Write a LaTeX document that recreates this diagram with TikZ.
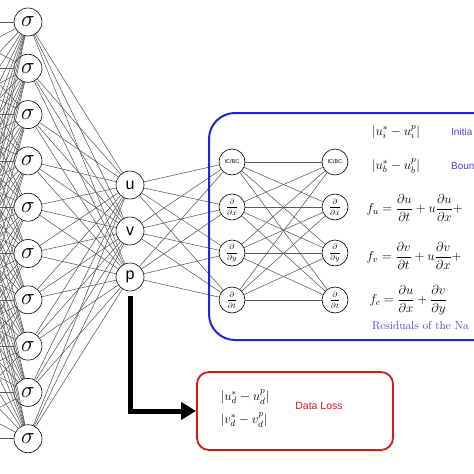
\documentclass[tikz,border=0pt]{standalone}
\usepackage{fix-cm}
\usepackage{amsmath}
\usepackage{amssymb}
\usepackage{fontspec}
\usepackage{tikz}
\usetikzlibrary{arrows.meta}
\newfontfamily\arialfont{Liberation Sans}
\definecolor{boxblue}{RGB}{35,35,215}
\definecolor{txtblue}{RGB}{70,70,205}
\definecolor{boxred}{RGB}{215,25,25}

\begin{document}
\begin{tikzpicture}[x=1pt, y=-1pt,
		neuron/.style={circle, draw, fill=white, inner sep=0pt, minimum size=28pt, line width=0.6pt},
		opnode/.style={circle, draw, fill=white, inner sep=0pt, minimum size=26pt, line width=0.6pt},
		wire/.style={draw=black!65, line width=0.55pt}]
	\useasboundingbox (0,0) rectangle (474,474);
	\clip (0,0) rectangle (474,474);
	% layer before the sigma layer (outside the picture)
	\foreach \i in {0,...,9}
		\coordinate (P\i) at (-60,{22+46.3*\i});
	% sigma layer
	\foreach \i in {0,...,9}
		\node[neuron, font=\fontsize{23}{23}\selectfont] (S\i) at (28,{22+46.3*\i}) {$\sigma$};
	% outputs
	\node[neuron, font=\arialfont\fontsize{16}{16}\selectfont] (U) at (130,185) {u};
	\node[neuron, font=\arialfont\fontsize{16}{16}\selectfont] (V) at (130,231) {v};
	\node[neuron, font=\arialfont\fontsize{16}{16}\selectfont] (Q) at (130,277) {p};
	% derivative nodes
	\node[opnode, font=\arialfont\fontsize{5.5}{6}\selectfont] (L1) at (232,162) {IC/BC};
	\node[opnode, font=\fontsize{7.5}{8}\selectfont] (L2) at (232,207) {$\dfrac{\partial}{\partial x}$};
	\node[opnode, font=\fontsize{7.5}{8}\selectfont] (L3) at (232,253) {$\dfrac{\partial}{\partial y}$};
	\node[opnode, font=\fontsize{7.5}{8}\selectfont] (L4) at (232,300) {$\dfrac{\partial}{\partial t}$};
	\node[opnode, font=\arialfont\fontsize{5.5}{6}\selectfont] (R1) at (335,162) {IC/BC};
	\node[opnode, font=\fontsize{7.5}{8}\selectfont] (R2) at (335,207) {$\dfrac{\partial}{\partial x}$};
	\node[opnode, font=\fontsize{7.5}{8}\selectfont] (R3) at (335,253) {$\dfrac{\partial}{\partial y}$};
	\node[opnode, font=\fontsize{7.5}{8}\selectfont] (R4) at (335,300) {$\dfrac{\partial}{\partial t}$};

	\foreach \i in {0,...,9}{
		\foreach \j in {0,...,9}
			\draw[wire] (P\j) -- (S\i);
		\foreach \o in {U,V,Q}
			\draw[wire] (S\i) -- (\o);
	}
	\foreach \o in {U,V,Q}
		\foreach \k in {1,...,4}
			\draw[wire] (\o) -- (L\k);
	\foreach \k in {1,...,4}
		\foreach \m in {1,...,4}
			\draw[wire] (L\k) -- (R\m);

	% residual box
	\draw[boxblue, line width=2pt, rounded corners=26pt] (209,113) rectangle (530,340);
	\node[font=\fontsize{13}{13}\selectfont] (E1) at (396,132) {$|u_i^{*}-u_i^{p}|$};
	\node[font=\fontsize{13}{13}\selectfont] (E2) at (396,166) {$|u_b^{*}-u_b^{p}|$};
	\node[anchor=west, inner sep=0pt, txtblue, font=\arialfont\fontsize{10}{10}\selectfont] (T1) at (451,132) {Initia};
	\node[anchor=west, inner sep=0pt, txtblue, font=\arialfont\fontsize{10}{10}\selectfont] (T2) at (451,166) {Boun};
	\node[anchor=west, font=\fontsize{13}{13}\selectfont] (FU) at (363,208)
		{$f_u=\dfrac{\partial u}{\partial t}+u\dfrac{\partial u}{\partial x}+$};
	\node[anchor=west, font=\fontsize{13}{13}\selectfont] (FV) at (363,256)
		{$f_v=\dfrac{\partial v}{\partial t}+u\dfrac{\partial v}{\partial x}+$};
	\node[anchor=west, font=\fontsize{13}{13}\selectfont] (FC) at (366,300)
		{$f_c=\dfrac{\partial u}{\partial x}+\dfrac{\partial v}{\partial y}$};
	\node[anchor=west, inner sep=0pt, txtblue, font=\fontsize{11.5}{12}\selectfont] (T3) at (372,326) {Residuals of the Na};

	% data loss
	\node[draw=boxred, line width=1.8pt, rounded corners=12pt, minimum width=196pt, minimum height=78pt] (D) at (295,411) {};
	\node[font=\fontsize{13}{13}\selectfont] (E3) at (245,397) {$|u_d^{*}-u_d^{p}|$};
	\node[font=\fontsize{13}{13}\selectfont] (E4) at (244,420) {$|v_d^{*}-v_d^{p}|$};
	\node[boxred, font=\arialfont\fontsize{10.5}{10}\selectfont] (T4) at (319,406) {Data Loss};
	\draw[line width=5pt, -{Triangle[length=15pt,width=17pt]}, shorten <=5pt] (Q.south) |- (D.west);
\end{tikzpicture}
\end{document}
